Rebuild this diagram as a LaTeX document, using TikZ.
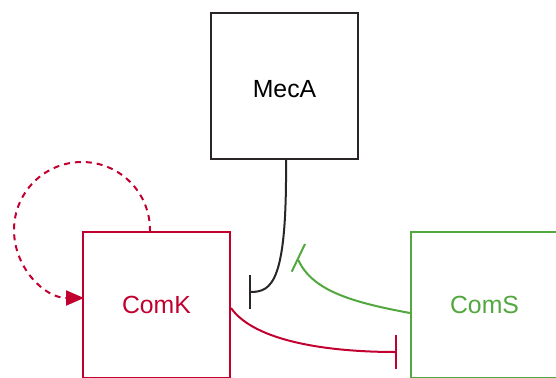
\documentclass[tikz,border=0pt]{standalone}
\usepackage{fontspec}
\setmainfont{Liberation Sans}
\usetikzlibrary{arrows.meta}
\definecolor{kred}{HTML}{C20030}
\definecolor{sgreen}{HTML}{52A83E}
\definecolor{mdark}{HTML}{2A2628}
\begin{document}
\begin{tikzpicture}[x=1pt,y=-1pt,
  gbox/.style={draw,line width=2pt,minimum width=147pt,minimum height=146pt,inner sep=0pt,
    font=\fontsize{24.8}{29}\selectfont},
  lowtext/.style={text height=22.4pt,text depth=0pt},
  link/.style={line width=2pt},
  inhib/.style={link,-{Bar[width=34pt,line width=2pt]}}]
\useasboundingbox (0,0) rectangle (556,377);
\clip (0,0) rectangle (556,377);
\fill[white] (0,0) rectangle (556,377);
\node[gbox,lowtext,draw=mdark,text=black] (meca) at (284.5,86) {MecA};
\node[gbox,draw=kred,text=kred] (comk) at (156.5,305) {ComK};
\node[gbox,draw=sgreen,text=sgreen] (coms) at (484.5,305) {ComS};
\coordinate (tm) at (249,292);
\coordinate (ts) at (298.3,260);
\coordinate (tk) at (397,352);
\coordinate (la) at (150,232);
\coordinate (lb) at (84,298);
\draw[inhib,draw=mdark] (meca.south -| 286,0) .. controls (287,282) and (272,292) .. (tm);
\draw[link,draw=sgreen] (coms.west |- 0,313) .. controls (350,302) and (312,290) .. (ts);
\draw[link,draw=sgreen] (ts) ++(-6.6,11.7) -- ++(13.3,-27.7);
\draw[inhib,draw=kred] (comk.east |- 0,308) .. controls (255,342) and (330,352) .. (tk);
\draw[link,draw=kred,dash pattern=on 6pt off 5pt,-{Triangle[length=18pt,width=15pt]}]
  (la) -- (150,230) .. controls (150,192.4) and (119.6,162) .. (82,162)
  .. controls (44.4,162) and (14,192.4) .. (14,230)
  .. controls (14,267.6) and (44.4,298) .. (lb);
\end{tikzpicture}
\end{document}
